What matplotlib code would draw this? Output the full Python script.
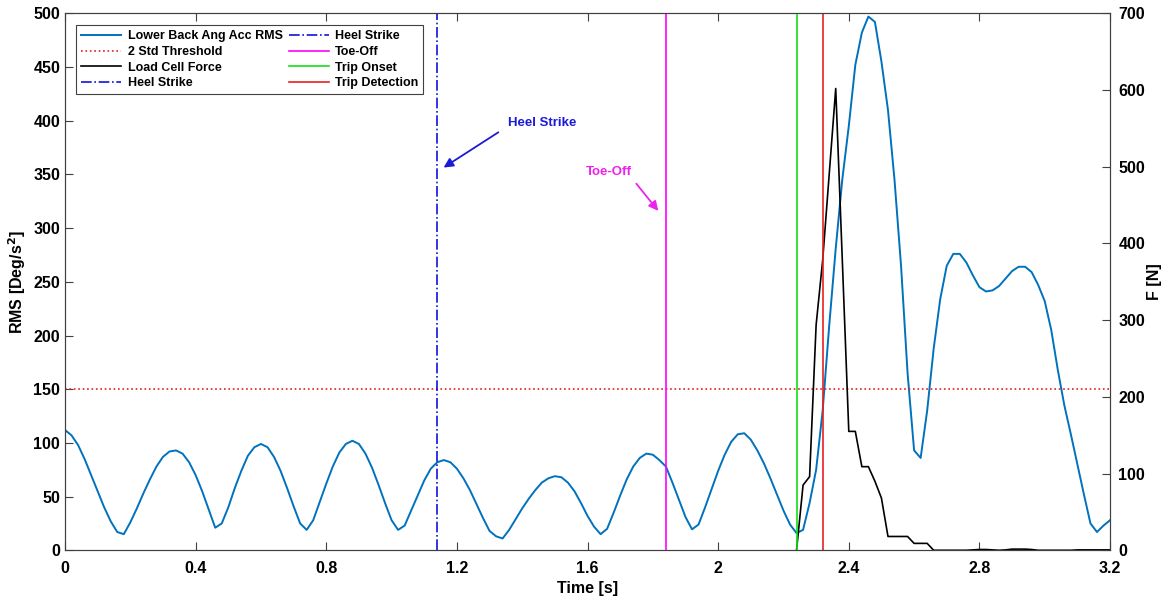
import numpy as np
import matplotlib
matplotlib.use('Agg')
import matplotlib.pyplot as plt

plt.rcParams['font.family'] = ['Liberation Sans', 'DejaVu Sans']
plt.rcParams['font.weight'] = 'bold'

# lower back angular acceleration RMS (left axis), sampled every 0.02 s
t_rms = np.round(np.arange(0, 3.2001, 0.02), 2)
rms = [112, 107, 98, 85, 70, 55, 40, 27, 17, 15,
       26, 39, 53, 66, 78, 87, 92, 93, 90, 82,
       70, 55, 38, 21, 25, 40, 58, 74, 88, 96,
       99, 96, 87, 74, 58, 41, 25, 19, 28, 45,
       62, 78, 91, 99, 102, 99, 90, 77, 61, 44,
       28, 19, 23, 37, 51, 65, 76, 82, 84, 82,
       76, 67, 56, 43, 30, 18, 13, 11, 19, 29,
       39, 48, 56, 63, 67, 69, 68, 63, 55, 44,
       32, 22, 15, 20, 35, 51, 66, 78, 86, 90,
       89, 84, 78, 63, 47, 31, 19.5, 24, 40, 57,
       74, 89, 101, 108, 109, 103, 93, 81, 67, 52,
       37, 24, 16, 19, 44, 75, 130, 209, 281, 345,
       395, 452, 482, 497, 492, 455, 410, 345, 265, 165,
       93, 86, 130, 188, 234, 265, 276, 276, 268, 256,
       245, 241, 242, 246, 253, 260, 264, 264, 259, 247,
       232, 205, 168, 135, 108, 80, 52, 25, 17, 23,
       28]

# load cell force (right axis)
t_force = np.round(np.arange(2.24, 3.2001, 0.02), 2)
force = [0, 85, 96, 294, 378, 490, 602, 380, 155, 155,
         109, 109, 90, 68, 18, 18, 18, 18, 9, 9,
         9, 0, 0, 0, 0, 0, 0, 0.5, 1, 1,
         0.5, 0, 0.5, 1.5, 1.5, 1.5, 1, 0, 0, 0,
         0, 0, 0, 0.5, 0.5, 0.5, 0.5, 0.5, 0.5]

threshold = 150
heel_strikes = [0, 1.14]
toe_off = 1.84
trip_onset = 2.24
trip_detect = 2.32

fig = plt.figure(figsize=(11.67, 5.98), dpi=100)
ax = fig.add_axes([0.0557, 0.0798, 0.8955, 0.8979])
ax2 = ax.twinx()

l1, = ax.plot(t_rms, rms, color='#0072BD', lw=1.4, label='Lower Back Ang Acc RMS')
l2 = ax.axhline(threshold, color='#E02020', ls=':', lw=1.2, label='2 Std Threshold')
l3, = ax2.plot(t_force, force, color='black', lw=1.2, label='Load Cell Force')
hs = []
for h in heel_strikes:
    hs.append(ax.axvline(h, color='#1010E0', ls='-.', lw=1.2, label='Heel Strike'))
l5 = ax2.axvline(toe_off, color='#FF00FF', lw=1.2, label='Toe-Off')
l6 = ax2.axvline(trip_onset, color='#10E010', lw=1.2, label='Trip Onset')
l7 = ax2.axvline(trip_detect, color='#E82020', lw=1.2, label='Trip Detection')

ax.set_xlim(0, 3.2)
ax.set_ylim(0, 500)
ax2.set_ylim(0, 700)
ax.set_xticks([0, 0.4, 0.8, 1.2, 1.6, 2, 2.4, 2.8, 3.2])
ax.set_xticklabels(['0', '0.4', '0.8', '1.2', '1.6', '2', '2.4', '2.8', '3.2'])
ax.set_yticks(np.arange(0, 501, 50))
ax2.set_yticks(np.arange(0, 701, 100))

for a in (ax, ax2):
    a.tick_params(direction='in', length=6, width=0.8, color='#404040', labelsize=11.5)
    for s in a.spines.values():
        s.set_color('#404040')
ax.tick_params(top=True)
ax.tick_params(axis='x', pad=8)
ax2.tick_params(axis='y', pad=6)
for lab in ax.get_xticklabels() + ax.get_yticklabels() + ax2.get_yticklabels():
    lab.set_fontweight('bold')

ax.set_xlabel('Time [s]', fontsize=11.5, fontweight='bold', labelpad=3)
ax.set_ylabel('RMS [Deg/s$^\\mathbf{2}$]', fontsize=11.5, fontweight='bold')
ax2.set_ylabel('F [N]', fontsize=11.5, fontweight='bold', labelpad=1)

# annotations
ax.annotate('', xy=(1.152, 355), xytext=(1.334, 390.6),
            arrowprops=dict(arrowstyle='-|>', color='#1a1ad8', lw=1.3, mutation_scale=14))
ax.text(1.462, 398, 'Heel Strike', color='#1a1ad8', fontsize=9.5, fontweight='bold',
        ha='center', va='center')
ax.annotate('', xy=(1.822, 314), xytext=(1.744, 343.4),
            arrowprops=dict(arrowstyle='-|>', color='#EE22EE', lw=1.3, mutation_scale=14))
ax.text(1.664, 352, 'Toe-Off', color='#EE22EE', fontsize=9.5, fontweight='bold',
        ha='center', va='center')

handles = [l1, l2, l3, hs[0], hs[1], l5, l6, l7]
leg = ax2.legend(handles, [h.get_label() for h in handles], ncol=2, loc='upper left',
                 bbox_to_anchor=(0.011, 0.978), frameon=True, fancybox=False,
                 framealpha=1, edgecolor='#404040', handlelength=3.2, columnspacing=0.5,
                 labelspacing=0.3, borderaxespad=0, handletextpad=0.5,
                 prop={'weight': 'bold', 'size': 9})
leg.get_frame().set_linewidth(0.8)

plt.savefig('out.png', dpi=100)
